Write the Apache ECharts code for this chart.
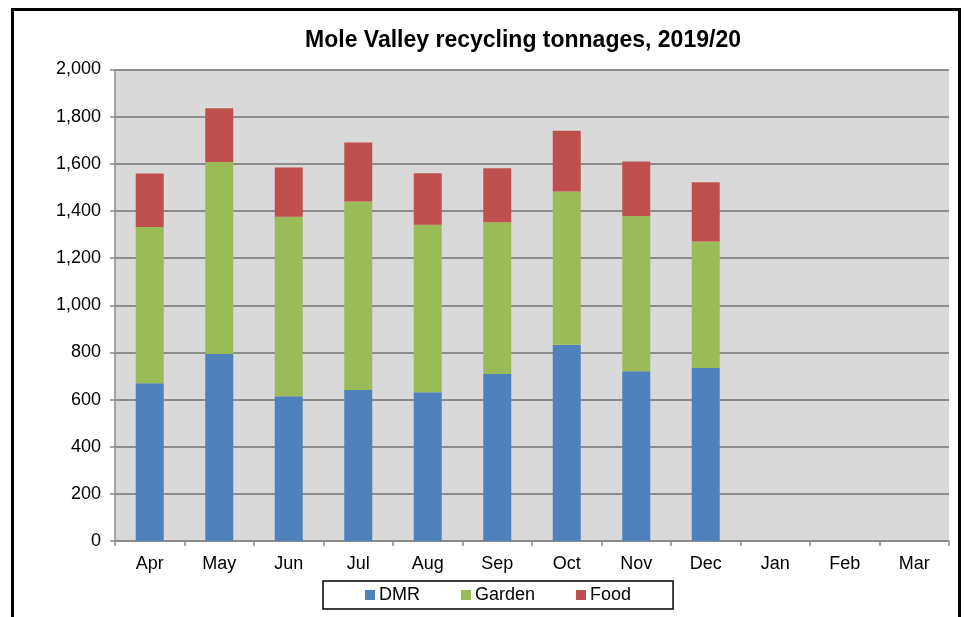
<!DOCTYPE html>
<html>
<head>
<meta charset="utf-8">
<script src="https://cdn.jsdelivr.net/npm/echarts@6/dist/echarts.min.js"></script>
<style>html,body{margin:0;padding:0;background:#fff;}#c{width:965px;height:617px;}</style>
</head>
<body>
<div id="c"></div>
<script>
const months = ['Apr','May','Jun','Jul','Aug','Sep','Oct','Nov','Dec','Jan','Feb','Mar'];
const dmr    = [669, 793, 614, 640, 631, 708, 832, 720, 734, null, null, null];
const garden = [663, 815, 761, 800, 710, 644, 650, 659, 536, null, null, null];
const food   = [227, 228, 209, 250, 219, 229, 258, 231, 252, null, null, null];
const yTicks = [0, 200, 400, 600, 800, 1000, 1200, 1400, 1600, 1800, 2000];

const font = 'Liberation Sans, Arial, sans-serif';
const chart = echarts.init(document.getElementById('c'));
chart.setOption({
  animation: false,
  backgroundColor: '#fff',
  title: {
    text: 'Mole Valley recycling tonnages, 2019/20',
    left: 518, top: 24, textAlign: 'center',
    textStyle: { fontFamily: font, fontSize: 23, fontWeight: 'bold', color: '#000' }
  },
  graphic: [{
    type: 'rect', left: 10, top: 7, z: 100,
    shape: { width: 947, height: 630 },
    style: { fill: 'none', stroke: '#000', lineWidth: 3 }
  }],
  legend: {
    left: 323, top: 581,
    padding: [5, 42],
    itemWidth: 10, itemHeight: 10, itemGap: 41,
    icon: 'rect',
    borderColor: '#000', borderWidth: 1.5,
    textStyle: { fontFamily: font, fontSize: 18, color: '#000', padding: [0,0,0,-1] },
    data: ['DMR', 'Garden', 'Food']
  },
  grid: { left: 115, right: 16, top: 69.5, bottom: 76, backgroundColor: '#d9d9d9', show: true, borderWidth: 0 },
  xAxis: {
    type: 'category', data: months,
    axisLine: { lineStyle: { color: '#8c8c8c', width: 1.5 } },
    axisTick: { show: true, length: 5, lineStyle: { color: '#8c8c8c', width: 1.5 } },
    axisLabel: { fontFamily: font, fontSize: 18, color: '#000', margin: 14 }
  },
  yAxis: {
    type: 'value', min: yTicks[0], max: yTicks[yTicks.length-1], interval: 200,
    axisLine: { show: true, lineStyle: { color: '#8c8c8c', width: 1.5 } },
    axisTick: { show: true, length: 5, lineStyle: { color: '#8c8c8c', width: 1.5 } },
    splitLine: { lineStyle: { color: '#8c8c8c', width: 2 } },
    axisLabel: {
      fontFamily: font, fontSize: 18, color: '#000', margin: 14,
      formatter: v => v.toLocaleString('en-US')
    }
  },
  series: [
    { name: 'DMR', type: 'bar', stack: 't', data: dmr, barWidth: 28, itemStyle: { color: '#4f81bd' } },
    { name: 'Garden', type: 'bar', stack: 't', data: garden, barWidth: 28, itemStyle: { color: '#9bbb59' } },
    { name: 'Food', type: 'bar', stack: 't', data: food, barWidth: 28, itemStyle: { color: '#c0504d' } }
  ]
});
</script>
</body>
</html>
